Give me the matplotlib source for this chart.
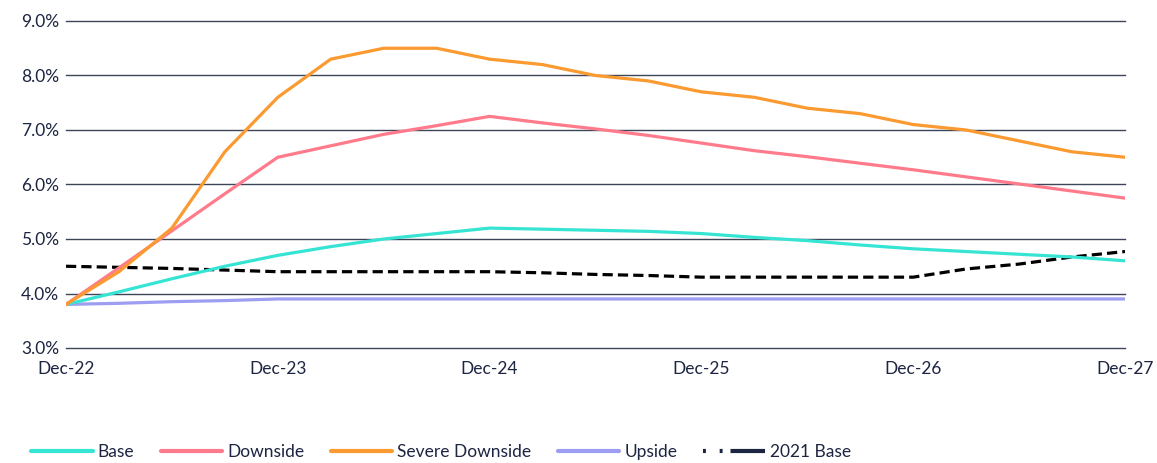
import matplotlib
matplotlib.use("Agg")
import matplotlib.pyplot as plt
from matplotlib.lines import Line2D
from matplotlib.ticker import FuncFormatter

# Quarterly unemployment-rate paths, Dec-22 through Dec-27
quarters = list(range(21))
tick_labels = ["Dec-22", "Dec-23", "Dec-24", "Dec-25", "Dec-26", "Dec-27"]

base = [3.8, 4.03, 4.27, 4.5, 4.7, 4.86, 5.0, 5.1, 5.2, 5.18, 5.16, 5.14, 5.1,
        5.03, 4.97, 4.89, 4.82, 4.77, 4.72, 4.67, 4.6]
downside = [3.8, 4.47, 5.15, 5.83, 6.5, 6.71, 6.92, 7.08, 7.25, 7.13, 7.02, 6.9, 6.76,
            6.62, 6.51, 6.39, 6.27, 6.14, 6.01, 5.88, 5.75]
severe = [3.8, 4.4, 5.2, 6.6, 7.6, 8.3, 8.5, 8.5, 8.3, 8.2, 8.0, 7.9, 7.7,
          7.6, 7.4, 7.3, 7.1, 7.0, 6.8, 6.6, 6.5]
upside = [3.8, 3.82, 3.85, 3.87, 3.9, 3.9, 3.9, 3.9, 3.9, 3.9, 3.9, 3.9, 3.9,
          3.9, 3.9, 3.9, 3.9, 3.9, 3.9, 3.9, 3.9]
base_2021 = [4.5, 4.48, 4.46, 4.43, 4.4, 4.4, 4.4, 4.4, 4.4, 4.38, 4.35, 4.33, 4.3,
             4.3, 4.3, 4.3, 4.3, 4.45, 4.54, 4.67, 4.77]

navy = "#1c2541"
c_base = "#36E4D4"
c_down = "#FF7B8B"
c_severe = "#FA9A30"
c_up = "#9D9DF2"

plt.rcParams["font.family"] = ["Lato", "DejaVu Sans"]

W, H = 1157, 463
fig = plt.figure(figsize=(W / 100, H / 100), dpi=100)
ax = fig.add_axes([66 / W, 1 - 348 / H, (1125 - 66) / W, (348 - 21) / H])

lw = 2.3
ax.plot(quarters, upside, color=c_up, lw=lw, solid_capstyle="butt", zorder=3)
ax.plot(quarters, base_2021, color="black", lw=lw, dashes=(3.2, 1.6), zorder=3)
ax.plot(quarters, base, color=c_base, lw=lw, zorder=4)
ax.plot(quarters, downside, color=c_down, lw=lw, zorder=4)
ax.plot(quarters, severe, color=c_severe, lw=lw, zorder=5)

ax.set_xlim(0, 20)
ax.set_ylim(3, 9)
ax.set_yticks([3, 4, 5, 6, 7, 8, 9])
ax.yaxis.set_major_formatter(FuncFormatter(lambda v, p: f"{v:.1f}%"))
ax.set_xticks([0, 4, 8, 12, 16, 20])
ax.set_xticklabels(tick_labels)
ax.grid(axis="y", color="#3d4559", lw=1.0, zorder=1)
for gl in ax.get_ygridlines():
    gl.set_clip_on(False)
ax.set_axisbelow(True)
for s in ax.spines.values():
    s.set_visible(False)
ax.tick_params(axis="both", length=0, labelsize=12.5, colors=navy)
ax.tick_params(axis="y", pad=5)
ax.tick_params(axis="x", pad=9)

hl = 3.0
handles = [
    Line2D([], [], color=c_base, lw=hl, solid_capstyle="round"),
    Line2D([], [], color=c_down, lw=hl, solid_capstyle="round"),
    Line2D([], [], color=c_severe, lw=hl, solid_capstyle="round"),
    Line2D([], [], color=c_up, lw=hl, solid_capstyle="round"),
    Line2D([], [], color=navy, lw=hl, dashes=(0.7, 3.3, 0.7, 1.9, 8.5, 30),
           dash_capstyle="butt"),
]
labels = ["Base", "Downside", "Severe Downside", "Upside", "2021 Base"]
leg = fig.legend(handles, labels, loc="center left",
                 bbox_to_anchor=(31 / W, 11 / H), frameon=False, ncol=5,
                 fontsize=12.5, handlelength=3.55, handletextpad=0.3,
                 columnspacing=1.5, borderpad=0, borderaxespad=0)
for t in leg.get_texts():
    t.set_color(navy)

fig.savefig("out.png", dpi=100)
